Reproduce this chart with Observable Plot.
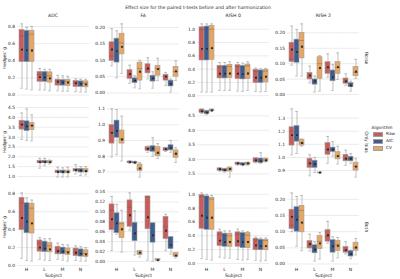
<!DOCTYPE html>
<html><head><meta charset="utf-8">
<script src="https://cdn.jsdelivr.net/npm/d3@7"></script>
<script src="https://cdn.jsdelivr.net/npm/@observablehq/plot@0.6"></script>
<style>
body{margin:0;background:#fff;font-family:"DejaVu Sans",sans-serif;color:#262626}
#fig{position:relative;width:400px;height:279px;overflow:hidden;background:#fff}
.t{position:absolute;white-space:nowrap;line-height:1}
</style></head><body><div id="fig"></div><script>
// ---- data ----
const subjects = ["H", "L", "M", "N"];
const algorithms = ["Raw", "AIC", "CV"];
const metrics = ["ADC", "FA", "RISH 0", "RISH 2"];
const scenarios = ["Noise", "Only bias", "Both"];
const algoColors = ["#c95c58", "#3d5c8f", "#e8a660"];
// each row: [whisker low, q1, median, q3, whisker high, mean]; order: H(Raw,AIC,CV), L(...), M(...), N(...)
const noise_ADC = [
 [0.08,0.385,0.69,0.76,0.83,0.53],[0.07,0.385,0.70,0.75,0.79,0.525],[0.06,0.385,0.71,0.75,0.80,0.52],
 [0.06,0.155,0.24,0.27,0.31,0.21],[0.06,0.155,0.235,0.27,0.30,0.205],[0.05,0.145,0.225,0.265,0.30,0.195],
 [0.05,0.11,0.165,0.18,0.23,0.155],[0.045,0.11,0.16,0.175,0.225,0.145],[0.045,0.105,0.16,0.175,0.22,0.145],
 [0.04,0.095,0.15,0.165,0.19,0.14],[0.035,0.095,0.145,0.16,0.185,0.13],[0.035,0.09,0.14,0.16,0.18,0.125]];
const noise_FA = [
 [0.083,0.098,0.113,0.155,0.196,0.133],[0.046,0.093,0.12,0.166,0.19,0.128],[0.06,0.118,0.153,0.181,0.211,0.141],
 [0.03,0.043,0.056,0.07,0.085,0.058],[0.016,0.03,0.038,0.045,0.053,0.038],[0.013,0.038,0.075,0.093,0.10,0.065],
 [0.043,0.06,0.073,0.088,0.108,0.075],[0.015,0.035,0.045,0.053,0.065,0.045],[0.038,0.053,0.075,0.083,0.106,0.073],
 [0.023,0.038,0.05,0.056,0.063,0.05],[0.003,0.02,0.028,0.038,0.043,0.028],[0.038,0.05,0.066,0.08,0.098,0.066]];
const noise_RISH0 = [
 [0.055,0.53,0.99,1.03,1.08,0.705],[0.055,0.53,0.99,1.04,1.08,0.705],[0.055,0.54,1.0,1.05,1.08,0.715],
 [0.08,0.26,0.43,0.45,0.50,0.33],[0.08,0.26,0.43,0.45,0.50,0.33],[0.08,0.265,0.44,0.465,0.51,0.335],
 [0.07,0.25,0.44,0.46,0.50,0.33],[0.065,0.245,0.43,0.45,0.49,0.325],[0.08,0.25,0.45,0.47,0.51,0.335],
 [0.065,0.19,0.37,0.39,0.415,0.27],[0.06,0.19,0.36,0.38,0.405,0.27],[0.065,0.20,0.37,0.39,0.41,0.285]];
const noise_RISH2 = [
 [0.095,0.105,0.115,0.168,0.222,0.146],[0.06,0.103,0.14,0.178,0.211,0.138],[0.06,0.117,0.175,0.20,0.229,0.155],
 [0.038,0.049,0.058,0.07,0.092,0.062],[0.008,0.032,0.045,0.049,0.06,0.043],[0.011,0.051,0.10,0.121,0.126,0.086],
 [0.056,0.067,0.085,0.105,0.132,0.089],[0.013,0.043,0.06,0.078,0.097,0.056],[0.049,0.067,0.088,0.105,0.135,0.089],
 [0.03,0.035,0.042,0.052,0.067,0.043],[0.011,0.024,0.028,0.037,0.043,0.029],[0.052,0.059,0.072,0.09,0.114,0.074]];
const bias_ADC = [
 [2.88,3.38,3.65,3.83,4.22,3.63],[2.83,3.3,3.55,3.8,4.43,3.55],[2.8,3.35,3.6,3.72,4.13,3.58],
 [1.42,1.67,1.73,1.8,1.92,1.73],[1.55,1.67,1.73,1.8,1.92,1.73],[1.63,1.67,1.73,1.78,1.83,1.73],
 [0.97,1.17,1.23,1.3,1.47,1.23],[0.97,1.16,1.23,1.3,1.44,1.23],[0.97,1.16,1.23,1.3,1.47,1.23],
 [1.13,1.25,1.33,1.38,1.6,1.33],[1.05,1.2,1.3,1.38,1.5,1.3],[1.08,1.2,1.28,1.37,1.5,1.28]];
const bias_FA = [
 [0.795,0.88,0.95,0.997,1.1,0.948],[0.81,0.917,0.96,1.026,1.096,0.96],[0.77,0.88,0.91,0.963,1.054,0.906],
 [0.755,0.757,0.763,0.767,0.77,0.763],[0.753,0.755,0.76,0.765,0.768,0.76],[0.668,0.706,0.72,0.748,0.76,0.723],
 [0.825,0.833,0.848,0.858,0.864,0.847],[0.8,0.828,0.85,0.864,0.917,0.85],[0.786,0.8,0.82,0.858,0.88,0.822],
 [0.83,0.833,0.845,0.852,0.856,0.845],[0.825,0.837,0.853,0.87,0.9,0.853],[0.76,0.79,0.815,0.837,0.854,0.816]];
const bias_RISH0 = [
 [4.58,4.6,4.66,4.72,4.74,4.66],[4.54,4.56,4.61,4.67,4.69,4.61],[4.65,4.67,4.69,4.72,4.73,4.69],
 [2.59,2.61,2.66,2.69,2.71,2.66],[2.56,2.58,2.63,2.67,2.69,2.63],[2.39,2.58,2.67,2.72,2.73,2.67],
 [2.80,2.81,2.86,2.89,2.90,2.86],[2.78,2.79,2.83,2.87,2.88,2.83],[2.80,2.81,2.86,2.89,2.90,2.86],
 [2.88,2.89,2.97,3.04,3.05,2.97],[2.86,2.87,2.94,3.03,3.23,2.94],[2.91,2.92,2.97,3.03,3.04,2.97]];
const bias_RISH2 = [
 [1.02,1.09,1.2,1.23,1.37,1.17],[1.03,1.12,1.19,1.24,1.35,1.17],[1.085,1.09,1.11,1.135,1.14,1.11],
 [0.86,0.92,0.955,0.99,1.02,0.955],[0.885,0.92,0.95,0.975,1.0,0.95],[0.882,0.883,0.884,0.885,0.886,0.884],
 [0.955,1.02,1.06,1.11,1.16,1.06],[1.01,1.04,1.06,1.075,1.12,1.06],[0.95,0.985,1.01,1.04,1.085,1.01],
 [0.94,0.97,0.99,1.02,1.055,0.99],[0.955,0.97,0.99,1.005,1.03,0.99],[0.85,0.9,0.93,0.96,0.99,0.93]];
const both_ADC = [
 [0.08,0.395,0.695,0.755,0.81,0.53],[0.056,0.36,0.66,0.695,0.755,0.49],[0.05,0.357,0.64,0.69,0.73,0.47],
 [0.07,0.155,0.25,0.28,0.31,0.2],[0.06,0.15,0.23,0.267,0.30,0.19],[0.056,0.147,0.22,0.25,0.30,0.18],
 [0.07,0.125,0.17,0.21,0.25,0.16],[0.06,0.125,0.16,0.20,0.235,0.155],[0.05,0.117,0.155,0.19,0.23,0.147],
 [0.056,0.105,0.15,0.19,0.22,0.143],[0.05,0.10,0.14,0.18,0.21,0.13],[0.05,0.094,0.135,0.17,0.20,0.124]];
const both_FA = [
 [0.022,0.063,0.103,0.115,0.131,0.085],[0.055,0.057,0.075,0.097,0.115,0.077],[0.019,0.047,0.076,0.078,0.103,0.065],
 [0.063,0.07,0.109,0.123,0.138,0.093],[0.013,0.041,0.055,0.078,0.102,0.057],[0.009,0.013,0.017,0.021,0.022,0.018],
 [0.003,0.065,0.13,0.131,0.131,0.089],[0.001,0.038,0.07,0.077,0.077,0.053],[0.002,0.002,0.003,0.005,0.005,0.003],
 [0.022,0.045,0.07,0.09,0.095,0.062],[0.015,0.025,0.035,0.049,0.05,0.033],[0.007,0.009,0.013,0.017,0.017,0.012]];
const both_RISH0 = [
 [0.067,0.5,0.97,0.99,1.02,0.69],[0.06,0.486,0.95,0.97,1.0,0.66],[0.048,0.486,0.93,0.95,0.985,0.66],
 [0.09,0.25,0.42,0.45,0.495,0.33],[0.076,0.24,0.40,0.43,0.47,0.31],[0.076,0.24,0.40,0.43,0.47,0.31],
 [0.057,0.24,0.42,0.45,0.495,0.32],[0.048,0.22,0.41,0.44,0.47,0.31],[0.057,0.22,0.41,0.44,0.46,0.31],
 [0.043,0.19,0.34,0.357,0.38,0.26],[0.033,0.19,0.33,0.343,0.367,0.25],[0.043,0.19,0.33,0.343,0.367,0.25]];
const both_RISH2 = [
 [0.10,0.108,0.12,0.168,0.22,0.146],[0.055,0.10,0.145,0.176,0.209,0.137],[0.041,0.098,0.166,0.18,0.212,0.128],
 [0.04,0.048,0.058,0.071,0.092,0.062],[0.009,0.033,0.045,0.058,0.069,0.045],[0.015,0.046,0.07,0.087,0.097,0.064],
 [0.064,0.069,0.085,0.105,0.132,0.089],[0.009,0.035,0.055,0.074,0.084,0.055],[0.019,0.04,0.06,0.072,0.082,0.056],
 [0.031,0.035,0.043,0.053,0.069,0.043],[0.016,0.023,0.03,0.04,0.043,0.031],[0.028,0.041,0.05,0.066,0.079,0.051]];
// y tick labels per panel
const ticks_noise = [[0,0.2,0.4,0.6,0.8],[0,0.05,0.10,0.15,0.20],[0,0.2,0.4,0.6,0.8,1.0],[0,0.05,0.10,0.15,0.20]];
const ticks_bias = [[1.0,1.5,2.0,2.5,3.0,3.5,4.0,4.5],[0.7,0.8,0.9,1.0,1.1],[2.5,3.0,3.5,4.0,4.5],[0.9,1.0,1.1,1.2,1.3]];
const ticks_both = [[0,0.2,0.4,0.6,0.8],[0,0.02,0.04,0.06,0.08,0.10,0.12,0.14],[0,0.2,0.4,0.6,0.8,1.0],[0,0.05,0.10,0.15,0.20]];
const formats_noise = [".1f", ".2f", ".1f", ".2f"];
const formats_bias = [".1f", ".1f", ".1f", ".1f"];
const formats_both = [".1f", ".2f", ".1f", ".2f"];

const panels = [
  [noise_ADC, noise_FA, noise_RISH0, noise_RISH2],
  [bias_ADC, bias_FA, bias_RISH0, bias_RISH2],
  [both_ADC, both_FA, both_RISH0, both_RISH2]];
const panelTicks = [ticks_noise, ticks_bias, ticks_both];
const panelFormats = [formats_noise, formats_bias, formats_both];

// ---- layout ----
const fig = document.getElementById("fig");
const PW = 72.8, PH = 75;
const colLeft = c => 16.6 + c * 90.1;
const rowTop = r => 20 + r * 84.5;
const ML = 16, MR = 2, MT = 2;
const FONT = "DejaVu Sans";

function addText(txt, x, y, size, opts = {}) {
  const d = document.createElement("div");
  d.className = "t";
  d.textContent = txt;
  d.style.fontSize = size + "px";
  d.style.left = x + "px";
  d.style.top = y + "px";
  let tr = opts.anchor === "middle" ? "translate(-50%,-50%)" : "translate(0,-50%)";
  if (opts.rotate) tr += ` rotate(${opts.rotate}deg)`;
  d.style.transform = tr;
  if (opts.color) d.style.color = opts.color;
  fig.appendChild(d);
  return d;
}

for (let r = 0; r < 3; r++) {
  for (let c = 0; c < 4; c++) {
    const arr = panels[r][c];
    const rows = [];
    subjects.forEach((s, si) => algorithms.forEach((a, ai) => {
      const [lo, q1, med, q3, hi, mean] = arr[si * 3 + ai];
      rows.push({subject: s, algo: a, lo, q1, med, q3, hi, mean});
    }));
    const mn = d3.min(rows, d => d.lo), mx = d3.max(rows, d => d.hi);
    const pad = (mx - mn) * 0.05;
    const ticks = panelTicks[r][c];
    const MB = r === 2 ? 14 : 2;
    const chart = Plot.plot({
      width: ML + PW + MR, height: MT + PH + MB,
      marginLeft: ML, marginRight: MR, marginTop: MT, marginBottom: MB,
      style: {fontFamily: FONT, fontSize: "4.4px", color: "#262626", background: "transparent", overflow: "visible"},
      fx: {domain: subjects, padding: 0, axis: null},
      x: {domain: algorithms, paddingInner: 0.06, paddingOuter: 0.32, axis: null},
      y: {domain: [mn - pad, mx + pad], axis: null},
      color: {domain: algorithms, range: algoColors},
      marks: [
        Plot.gridY(ticks, {stroke: "#e3e3e3", strokeOpacity: 1, strokeWidth: 0.7}),
        Plot.axisY(ticks, {tickSize: 0, tickPadding: 2.5, tickFormat: d3.format(panelFormats[r][c]), label: null, fontSize: 4.4}),
        ...(r === 2 ? [Plot.axisFx({anchor: "bottom", tickSize: 0, tickPadding: 3, fontSize: 4.6, label: "Subject", labelAnchor: "center", labelOffset: 13})] : []),
        Plot.ruleX(rows, {fx: "subject", x: "algo", y1: "lo", y2: "hi", stroke: "#a3a3a3", strokeWidth: 0.7}),
        Plot.tickY(rows, {fx: "subject", x: "algo", y: "lo", stroke: "#a3a3a3", strokeWidth: 0.7, insetLeft: 1.2, insetRight: 1.2}),
        Plot.tickY(rows, {fx: "subject", x: "algo", y: "hi", stroke: "#a3a3a3", strokeWidth: 0.7, insetLeft: 1.2, insetRight: 1.2}),
        Plot.barY(rows, {fx: "subject", x: "algo", y1: "q1", y2: "q3", fill: "algo", stroke: "#a0a0a0", strokeWidth: 0.6}),
        Plot.tickY(rows, {fx: "subject", x: "algo", y: "med", stroke: "#5a5a5a", strokeOpacity: 0.55, strokeWidth: 0.7}),
        Plot.dot(rows, {fx: "subject", x: "algo", y: "mean", symbol: "square", r: 1.05, fill: "#111", stroke: "#777", strokeWidth: 0.3})
      ]
    });
    chart.style.position = "absolute";
    chart.style.left = (colLeft(c) - ML) + "px";
    chart.style.top = (rowTop(r) - MT) + "px";
    fig.appendChild(chart);
  }
}

// titles
addText("Effect size for the paired t-tests before and after harmonization", 198, 7.5, 4.6, {anchor: "middle"});
metrics.forEach((m, c) => addText(m, colLeft(c) + PW / 2, 15.5, 4.6, {anchor: "middle"}));
scenarios.forEach((s, r) => {
  addText("Hedges' g", 5, rowTop(r) + PH / 2, 4.4, {anchor: "middle", rotate: -90});
  addText(s, 365.5, rowTop(r) + PH / 2, 4.6, {anchor: "middle", rotate: 90});
});

// legend
addText("Algorithm", 371.5, 128, 4.3);
algorithms.forEach((a, i) => {
  const sw = document.createElement("div");
  sw.style.cssText = `position:absolute;left:373px;top:${132 + i * 7}px;width:10px;height:4.5px;background:${algoColors[i]};border:0.5px solid #a0a0a0;box-sizing:border-box`;
  fig.appendChild(sw);
  addText(a, 386, 134.3 + i * 7, 4.3);
});
</script></body></html>
